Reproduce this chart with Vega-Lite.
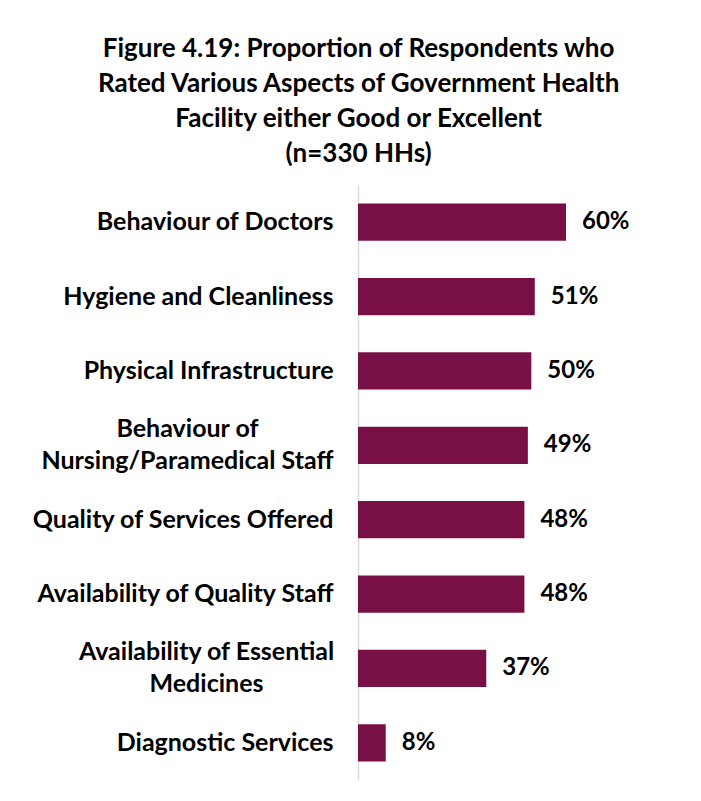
{
  "$schema": "https://vega.github.io/schema/vega-lite/v6.json",
  "width": 312,
  "height": 595,
  "padding": {"left": 31, "top": 36, "right": 10, "bottom": 20},
  "background": "white",
  "config": {"view": {"stroke": null}, "font": "Lato"},
  "title": {
    "text": ["Figure 4.19: Proportion of Respondents who", "Rated Various Aspects of Government Health", "Facility either Good or Excellent", "(n=330 HHs)"],
    "font": "Lato",
    "fontSize": 26,
    "fontWeight": "bold",
    "color": "#000000",
    "lineHeight": 35,
    "anchor": "middle",
    "frame": "bounds",
    "dx": 8,
    "offset": 18
  },
  "data": {
    "values": [
      {"aspect": "Behaviour of Doctors", "share": 0.60},
      {"aspect": "Hygiene and Cleanliness", "share": 0.51},
      {"aspect": "Physical Infrastructure", "share": 0.50},
      {"aspect": "Behaviour of Nursing/Paramedical Staff", "share": 0.49},
      {"aspect": "Quality of Services Offered", "share": 0.48},
      {"aspect": "Availability of Quality Staff", "share": 0.48},
      {"aspect": "Availability of Essential Medicines", "share": 0.37},
      {"aspect": "Diagnostic Services", "share": 0.08}
    ]
  },
  "encoding": {
    "y": {
      "field": "aspect",
      "type": "nominal",
      "sort": null,
      "title": null,
      "scale": {"paddingInner": 0.5, "paddingOuter": 0.25},
      "axis": {
        "ticks": false,
        "domainColor": "#d9d9d9",
        "domainWidth": 1.5,
        "labelFont": "Lato",
        "labelFontSize": 25,
        "labelFontWeight": "bold",
        "labelColor": "#000000",
        "labelPadding": {"condition": [
          {"test": "datum.value == 'Behaviour of Nursing/Paramedical Staff'", "value": 171},
          {"test": "datum.value == 'Availability of Essential Medicines'", "value": 152}
        ], "value": 25},
        "labelAlign": {"condition": {"test": "indexof(['Behaviour of Nursing/Paramedical Staff', 'Availability of Essential Medicines'], datum.value) >= 0", "value": "center"}, "value": "right"},
        "labelOffset": {"condition": {"test": "indexof(['Behaviour of Nursing/Paramedical Staff', 'Availability of Essential Medicines'], datum.value) >= 0", "value": -16}, "value": 0},
        "labelLimit": 400,
        "labelLineHeight": 32,
        "labelExpr": "datum.label == 'Behaviour of Nursing/Paramedical Staff' ? ['Behaviour of', 'Nursing/Paramedical Staff'] : datum.label == 'Availability of Essential Medicines' ? ['Availability of Essential', 'Medicines'] : datum.label"
      }
    },
    "x": {
      "field": "share",
      "type": "quantitative",
      "scale": {"domain": [0, 0.9]},
      "axis": null
    }
  },
  "layer": [
    {"mark": {"type": "bar", "color": "#781045"}},
    {
      "mark": {"type": "text", "align": "left", "baseline": "middle", "dx": 16, "font": "Lato", "fontSize": 24, "fontWeight": "bold", "color": "#000000"},
      "encoding": {"text": {"field": "share", "type": "quantitative", "format": ".0%"}}
    }
  ]
}
